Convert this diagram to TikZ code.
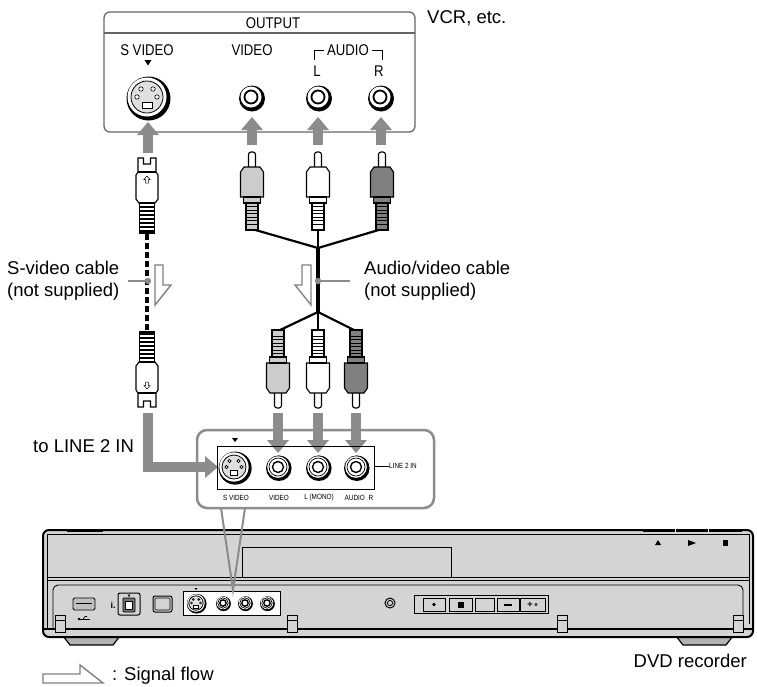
\documentclass[tikz,border=0pt]{standalone}
\usepackage{fontspec}
\setmainfont{Liberation Sans}
\newfontfamily\narrowfont[FakeStretch=0.85]{Liberation Sans}
\usetikzlibrary{arrows.meta}

\begin{document}
\begin{tikzpicture}[
        x=1pt, y=-1pt,
        every node/.style={inner sep=0pt},
        caption/.style={
                font=\fontsize{18.5}{22}\selectfont,
                align=left
            },
        panel/.style={font=\narrowfont\fontsize{15.5}{18}\selectfont},
        tiny/.style={font=\narrowfont\fontsize{7.5}{8}\selectfont},
        feed/.style={
                draw=black!45,
                line width=10pt,
                -{Triangle[width=22pt,length=13pt,line width=0pt]}
            },
        flow/.style={
                draw=black!50,
                fill=white,
                line width=1.4pt,
                line join=miter
            },
        lead/.style={draw=black!45, line width=1.6pt},
        plugline/.style={draw=black, line width=1.1pt},
        wire/.style={line width=2.2pt},
        shell/.style={draw=black, fill=black!17},
        pics/svplug/.style={code={
                \draw[plugline, fill=white] (-9,0) -- (-3.5,0) -- (-3.5,6) -- (3.5,6) -- (3.5,0) -- (9,0) -- (9,14)
                    -- (11,17) -- (11,41) -- (8,45) -- (-8,45) -- (-11,41) -- (-11,17) -- (-9,14) -- cycle;
                \draw[plugline] (-9,14) -- (9,14);
                \draw[line width=0.5pt] (0,18) -- (3,21.5) -- (1.4,21.5) -- (1.4,25) -- (-1.4,25) -- (-1.4,21.5) -- (-3,21.5) -- cycle;
                \draw[plugline, fill=white] (-7.5,45) rectangle (7.5,75);
                \foreach \r in {48,52,...,72} \fill (-7.5,\r) rectangle (7.5,\r+2);
            }},
        pics/rcaplug/.style={code={
                \draw[plugline, fill=white, rounded corners=2.5pt] (-3.5,17) -- (-3.5,0) -- (3.5,0) -- (3.5,17);
                \draw[plugline, fill=#1] (-8,15) -- (8,15) -- (11.5,20) -- (11.5,45) -- (-11.5,45) -- (-11.5,20) -- cycle;
                \draw[plugline, fill=#1] (-8.5,45) rectangle (8.5,51);
                \draw[plugline, fill=#1] (-6,51) rectangle (6,78);
                \foreach \r in {54.5,58,...,75} \draw[line width=0.8pt] (-6,\r) -- (6,\r);
            }},
        pics/svjack/.style={code={
                \fill (1.5,1.5) circle (22);
                \fill[white] (0,0) circle (19.5);
                \draw[fill=black!12, line width=0.8pt] (0,0) circle (16);
                \foreach \p in {(-6,-8),(6,-8),(-10,0),(10,0)}
                    \draw[fill=white, line width=0.6pt] \p circle (2.2);
                \draw[fill=white, line width=0.6pt] (-5,5) rectangle (5,11);
            }},
        pics/rcajack/.style={code={
                \fill (1,1.5) circle (13);
                \fill[white] (0,0) circle (10.5);
                \draw[line width=1.8pt] (0,0) circle (6.5);
            }},
        pics/ringjack/.style={code={
                \fill (0.8,1.2) circle (12.8);
                \fill[white] (0,0) circle (10.8);
                \draw[line width=0.7pt] (0,0) circle (9);
                \draw[line width=1.4pt] (0,0) circle (5.5);
            }}
    ]
    \useasboundingbox (0,0) rectangle (757,686);

    % VCR output panel
    \draw[draw=black!60, line width=1.3pt, rounded corners=6pt] (104,12) rectangle (415,132);
    \draw[draw=black!60, line width=1.3pt] (104,33) -- (415,33);
    \node[panel] (output) at (273,23) {OUTPUT};
    \node[caption, anchor=west] (vcr) at (427,18) {VCR, etc.};
    \node[panel] (svout) at (147,50) {S VIDEO};
    \node[panel] (vidout) at (252,50) {VIDEO};
    \node[panel] (audout) at (348,50) {AUDIO};
    \node[panel] (lout) at (317,71) {L};
    \node[panel] (rout) at (379,71) {R};
    \draw[line width=0.9pt] (314,60) |- ([xshift=-3pt]audout.west);
    \draw[line width=0.9pt] (382,60) |- ([xshift=3pt]audout.east);
    \fill (144.5,60) -- (151.5,60) -- (148,65.5) -- cycle;
    \pic at (147,97) {svjack};
    \pic at (251,97) {rcajack};
    \pic at (318,97) {rcajack};
    \pic at (380,97) {rcajack};

    % S-video cable
    \draw[feed] (148,153) -- (148,122);
    \pic at (147,158) {svplug};
    \draw[line width=4pt, dash pattern=on 6pt off 3pt] (147,234) -- (147,331);
    \pic[rotate=180] at (147,407) {svplug};
    \draw[feed, line join=miter] (148,413) |- (218,467);

    % audio/video cable
    \foreach \x in {252,318,381} \draw[feed] (\x,145) -- (\x,117);
    \coordinate (topj) at (318,248);
    \coordinate (botj) at (318,312);
    \draw[wire] (252,229) -- (topj) -- (382,229);
    \draw[wire] (318,229) -- (topj);
    \draw[line width=3.6pt] (topj) -- (botj);
    \draw[wire] (278,331) -- (botj) -- (356,331);
    \draw[wire] (318,331) -- (botj);
    \pic at (252,152) {rcaplug=black!20};
    \pic at (318,152) {rcaplug=white};
    \pic at (382,152) {rcaplug=black!50};
    \pic[rotate=180] at (278,408) {rcaplug=black!20};
    \pic[rotate=180] at (318,408) {rcaplug=white};
    \pic[rotate=180] at (356,408) {rcaplug=black!50};
    \foreach \x in {278,318,356} \draw[feed] (\x,413) -- (\x,453);

    % labels and signal flow marks
    \draw[flow] (155,265) -- (163,265) -- (163,285) -- (171,285) -- (155,305) -- cycle;
    \draw[flow] (302,265) -- (311,265) -- (311,305) -- (295,285) -- (302,285) -- cycle;
    \node[caption, anchor=west] (svcable) at (7,281) {S-video cable\\(not supplied)};
    \node[caption, anchor=west] (avcable) at (364,281) {Audio/video cable\\(not supplied)};
    \coordinate (svdot) at (148,281);
    \coordinate (avdot) at (318,281);
    \draw[lead] (128,281) -- (svdot);
    \draw[lead] (avdot) -- (350,281);
    \fill[black!45] (svdot) circle (3.2);
    \fill[black!45] (avdot) circle (3.2);
    \node[caption, anchor=west] (toline) at (33,446) {to LINE 2 IN};

    % LINE 2 IN close-up
    \draw[draw=black!45, line width=2.5pt, rounded corners=10pt] (197,430) rectangle (434,508);
    \draw[line width=1pt] (217,446) rectangle (374,489);
    \pic[scale=0.75] at (234,467) {svjack};
    \pic at (278,467) {ringjack};
    \pic at (318,467) {ringjack};
    \pic at (356,467) {ringjack};
    \fill (232,438) -- (238,438) -- (235,442) -- cycle;
    \node[tiny, anchor=west] (line2) at (389,466) {LINE 2 IN};
    \draw[line width=0.8pt] (374,466) -- (line2.west);
    \node[tiny] (svin) at (236,498) {S VIDEO};
    \node[tiny] (vidin) at (279,498) {VIDEO};
    \node[tiny] (lin) at (319,498) {L (MONO)};
    \node[tiny] (rin) at (359,498) {AUDIO\enspace R};

    % DVD recorder
    \draw[draw=black, fill=black!30, line width=1.2pt] (63,636) -- (120,636) -- (113,645) -- (70,645) -- cycle;
    \draw[draw=black, fill=black!30, line width=1.2pt] (676,636) -- (733,636) -- (726,645) -- (683,645) -- cycle;
    \draw[shell, line width=2pt, rounded corners=6pt] (43,530) rectangle (753,637);
    \draw[line width=3pt] (67,530) -- (103,530);
    \draw[line width=3pt] (643,530) -- (742,530);
    \draw[white, line width=0.8pt] (675,529) -- (675,532) (708,529) -- (708,532);
    \draw[line width=0.7pt] (47,534) -- (749,534);
    \draw[line width=0.9pt] (47,534) -- (47,629) (749,534) -- (749,624);
    \draw[line width=0.9pt] (47,577) -- (749,577);
    \draw[line width=0.9pt] (47,580) -- (749,580);
    \draw[line width=0.9pt] (242,577) -- (242,547) -- (451,547) -- (451,577);
    \fill (655,545) -- (661,545) -- (658,540) -- cycle;
    \fill (688,540) -- (688,546) -- (696,543) -- cycle;
    \fill (722.5,540) rectangle (727.5,546);
    \draw[line width=0.9pt, rounded corners=5pt] (53,629) -- (53,585) -- (743,585) -- (743,624);
    \draw[line width=1.2pt] (43,629) -- (753,629);
    \foreach \f in {55,287,557,733} {
        \draw[shell, line width=1pt] (\f,615) rectangle (\f+10,632);
        \draw[line width=0.8pt] (\f,620) -- (\f+10,620);
    }
    % front connectors
    \draw[fill=black!25, rounded corners=1.5pt, line width=0.9pt] (73,598) rectangle (95,610);
    \draw[line width=0.7pt] (76,603) -- (92,603);
    \draw[line width=0.7pt] (79,619) -- (90,619);
    \fill (79,619) circle (1.4);
    \draw[line width=0.6pt] (83,619) -- (85,616.5) -- (87,616.5);
    \node[font=\bfseries\fontsize{9}{9}\selectfont] (ilink) at (113,605) {i.};
    \draw[line width=1pt, rounded corners=2pt] (118,593) rectangle (140,615);
    \draw[fill=black!55, rounded corners=1pt, line width=0.8pt] (123,598) rectangle (135,612);
    \draw[fill=white, line width=0.5pt] (125.5,601) rectangle (132.5,609);
    \fill (127.5,594.5) -- (130.5,594.5) -- (129,597) -- cycle;
    \draw[line width=1pt, rounded corners=2pt] (153,596) rectangle (172,612);
    \draw[line width=0.6pt, rounded corners=1pt] (155,598) rectangle (170,610);
    \draw[fill=white, line width=1pt] (183,591) rectangle (280,615);
    \pic[scale=0.45] at (196,603) {svjack};
    \foreach \x in {223,245,267} \pic[scale=0.58] at (\x,603) {ringjack};
    \fill (194.5,588) -- (197.5,588) -- (196,590) -- cycle;
    \draw[line width=1pt] (390,603) circle (5);
    \draw[line width=0.8pt] (390,603) circle (2.6);
    \draw[line width=1pt] (414,595) rectangle (548,613);
    \draw[line width=0.9pt] (423,598) rectangle (445,611);
    \draw[line width=0.9pt] (449,598) rectangle (472,611);
    \draw[line width=0.9pt] (475,598) rectangle (494,611);
    \draw[line width=0.9pt] (497,598) rectangle (519,611);
    \draw[line width=0.9pt] (520,598) rectangle (545,611);
    \fill (434,604.5) circle (1.8);
    \fill (457.5,601.5) rectangle (463.5,607.5);
    \fill (504,603.5) rectangle (512,606);
    \node[font=\bfseries\fontsize{9}{9}\selectfont] (plusbtn) at (530,604.5) {+};
    \draw[line width=0.5pt] (536,604.5) circle (1.3);

    % close-up pointer
    \draw[draw=black!45, line width=2pt] (221,508) -- (233,590) -- (245,508);
    \node[caption, anchor=east] (dvd) at (747,661) {DVD recorder};

    % legend
    \draw[flow] (43,674) -- (80,674) -- (80,665) -- (103,683) -- (43,683) -- cycle;
    \node[caption, anchor=west] (flowlab) at (112,676) {: Signal flow};
\end{tikzpicture}
\end{document}
